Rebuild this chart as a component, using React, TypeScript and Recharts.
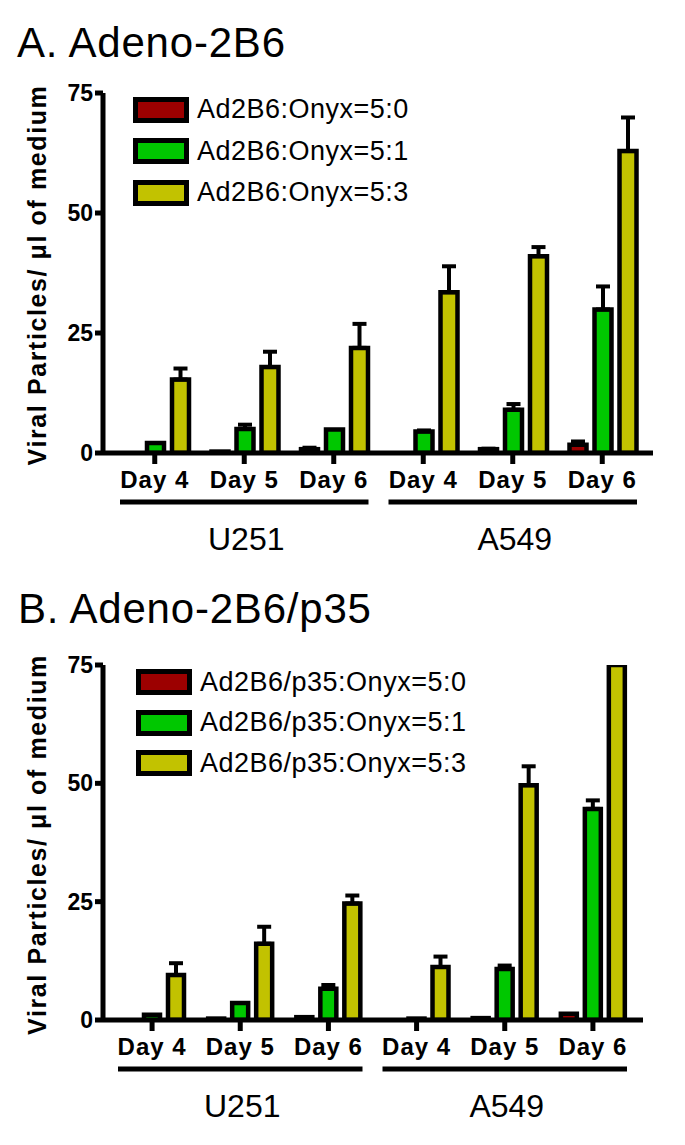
import React from 'react';
import { BarChart, Bar, XAxis, YAxis, ErrorBar, Legend } from 'recharts';

const FONT = '"Liberation Sans", Arial, Helvetica, sans-serif';

// shared categories
const days = ['Day 4', 'Day 5', 'Day 6', 'Day 4', 'Day 5', 'Day 6'];
const cellLines = ['U251', 'U251', 'U251', 'A549', 'A549', 'A549'];
const yTicks = [0, 25, 50, 75];

// panel A: Adeno-2B6
const aNames = ['Ad2B6:Onyx=5:0', 'Ad2B6:Onyx=5:1', 'Ad2B6:Onyx=5:3'];
const a50 = [0, 0.3, 0.8, 0, 0.8, 1.7];
const a50Err = [0, 0, 0.3, 0, 0.1, 0.7];
const a51 = [2.1, 5.0, 4.9, 4.5, 9.0, 29.9];
const a51Err = [0, 0.9, 0, 0.2, 1.2, 4.8];
const a53 = [15.3, 17.9, 21.9, 33.5, 41.0, 62.9];
const a53Err = [2.3, 3.2, 5.0, 5.4, 1.9, 7.0];

// panel B: Adeno-2B6/p35
const bNames = ['Ad2B6/p35:Onyx=5:0', 'Ad2B6/p35:Onyx=5:1', 'Ad2B6/p35:Onyx=5:3'];
const b50 = [0, 0.3, 0.6, 0, 0.4, 1.3];
const b50Err = [0, 0, 0, 0, 0, 0];
const b51 = [1.1, 3.6, 6.6, 0.3, 10.8, 44.6];
const b51Err = [0, 0, 0.8, 0, 0.7, 1.8];
const b53 = [9.5, 16.1, 24.6, 11.2, 49.6, 75];
const b53Err = [2.5, 3.6, 1.7, 2.2, 4.0, 0];

const colors = ['#9c0000', '#00c700', '#c2c200'];

const buildRows = (v0: number[], e0: number[], v1: number[], e1: number[], v2: number[], e2: number[]) =>
  days.map((d, i) => ({
    key: `${cellLines[i]}|${d}`,
    s0: v0[i],
    s1: v1[i],
    s2: v2[i],
    e0: e0[i] > 0 ? [0, e0[i]] : null,
    e1: e1[i] > 0 ? [0, e1[i]] : null,
    e2: e2[i] > 0 ? [0, e2[i]] : null,
  }));

const groupMids = new Set(
  Array.from(new Set(cellLines)).map((c) => Math.floor((cellLines.indexOf(c) + cellLines.lastIndexOf(c)) / 2))
);

const renderCatTick = (p: any, band: number) => {
  const { x, y, payload, index } = p;
  const [cell, day] = String(payload.value).split('|');
  const half = 1.5 * band - 10;
  return (
    <g>
      <text x={x} y={y + 22} textAnchor="middle" fontSize={24} fontWeight="bold" letterSpacing={1} fill="#000" fontFamily={FONT}>
        {day}
      </text>
      {groupMids.has(index) && (
        <g>
          <line x1={x - half} x2={x + half} y1={y + 36} y2={y + 36} stroke="#000" strokeWidth={5} />
          <text x={x + 2} y={y + 84} textAnchor="middle" fontSize={32} fill="#000" fontFamily={FONT}>
            {cell}
          </text>
        </g>
      )}
    </g>
  );
};

const yLabel = (p: any) => {
  const vb = p.viewBox || { x: 0, y: 0, width: 103, height: 360 };
  const x = vb.x + 46;
  const y = vb.y + vb.height / 2 + 2;
  return (
    <text x={x} y={y} transform={`rotate(-90 ${x} ${y})`} textAnchor="middle" fontSize={25} fontWeight="bold" letterSpacing={1.6} fill="#000" fontFamily={FONT}>
      Viral Particles/ μl of medium
    </text>
  );
};

const legendContent = (rowH: number) => (p: any) => (
  <div style={{ fontFamily: FONT }}>
    {(p.payload || []).map((e: any) => (
      <div key={e.value} style={{ display: 'flex', alignItems: 'center', height: rowH }}>
        <div style={{ width: 56, height: 26, boxSizing: 'border-box', border: '5px solid #000', background: e.color, flexShrink: 0 }} />
        <span style={{ marginLeft: 8, fontSize: 27, letterSpacing: 0.5, color: '#000', whiteSpace: 'nowrap', lineHeight: 1 }}>{e.value}</span>
      </div>
    ))}
  </div>
);

interface PanelProps {
  rows: any[];
  names: string[];
  height: number;
  margin: { top: number; right: number; bottom: number; left: number };
  pad: { left: number; right: number };
  legendPos: { left: number; top: number; rowH: number };
}

const W = 685;
const Y_W = 103;
const X_H = 100;

const Panel: React.FC<PanelProps> = ({ rows, names, height, margin, pad, legendPos }) => {
  const plotW = W - margin.left - Y_W - margin.right;
  const band = (plotW - pad.left - pad.right) / rows.length;
  const axisStyle = { stroke: '#000', strokeWidth: 5 };
  return (
    <BarChart width={W} height={height} data={rows} margin={margin} barCategoryGap={12} barGap={8}>
      <XAxis
        dataKey="key"
        interval={0}
        height={X_H}
        padding={pad}
        axisLine={axisStyle}
        tickLine={axisStyle}
        tickSize={11}
        tick={(p: any) => renderCatTick(p, band)}
      />
      <YAxis
        domain={[0, 75]}
        ticks={yTicks}
        allowDataOverflow
        interval={0}
        width={Y_W}
        tickSize={8}
        axisLine={axisStyle}
        tickLine={axisStyle}
        tick={{ fill: '#000', fontSize: 23, fontWeight: 'bold', fontFamily: FONT }}
        label={yLabel}
      />
      <Legend
        layout="vertical"
        align="center"
        verticalAlign="middle"
        width={420}
        wrapperStyle={{ left: legendPos.left, top: legendPos.top }}
        content={legendContent(legendPos.rowH)}
      />
      {['s0', 's1', 's2'].map((k, i) => (
        <Bar key={k} dataKey={k} name={names[i]} fill={colors[i]} stroke="#000" strokeWidth={4.5} isAnimationActive={false}>
          <ErrorBar dataKey={`e${i}`} width={7} strokeWidth={4} stroke="#000" direction="y" isAnimationActive={false} />
        </Bar>
      ))}
    </BarChart>
  );
};

const Title: React.FC<{ text: string; top: number; baseline: number; left: number }> = ({ text, top, baseline, left }) => (
  <svg width={W} height={90} style={{ position: 'absolute', left: 0, top }}>
    <text x={left} y={baseline} fontSize={42} letterSpacing={0.8} fill="#000" fontFamily={FONT}>
      {text}
    </text>
  </svg>
);

export default function App() {
  const rowsA = buildRows(a50, a50Err, a51, a51Err, a53, a53Err);
  const rowsB = buildRows(b50, b50Err, b51, b51Err, b53, b53Err);
  return (
    <div style={{ position: 'absolute', left: 0, top: 0, width: W, height: 1145, background: '#fff', fontFamily: FONT, overflow: 'hidden' }}>
      <div style={{ position: 'absolute', left: 0, top: 0 }}>
        <Panel
          rows={rowsA}
          names={aNames}
          height={560}
          margin={{ top: 93, right: 32, bottom: 7, left: 0 }}
          pad={{ left: 7, right: 6 }}
          legendPos={{ left: 133, top: 89, rowH: 41.5 }}
        />
      </div>
      <div style={{ position: 'absolute', left: 0, top: 560 }}>
        <Panel
          rows={rowsB}
          names={bNames}
          height={585}
          margin={{ top: 105, right: 42, bottom: 25, left: 0 }}
          pad={{ left: 5, right: 6 }}
          legendPos={{ left: 136, top: 102, rowH: 40.5 }}
        />
      </div>
      <Title text="A. Adeno-2B6" top={0} baseline={57} left={17} />
      <Title text="B. Adeno-2B6/p35" top={560} baseline={63} left={18} />
    </div>
  );
}
